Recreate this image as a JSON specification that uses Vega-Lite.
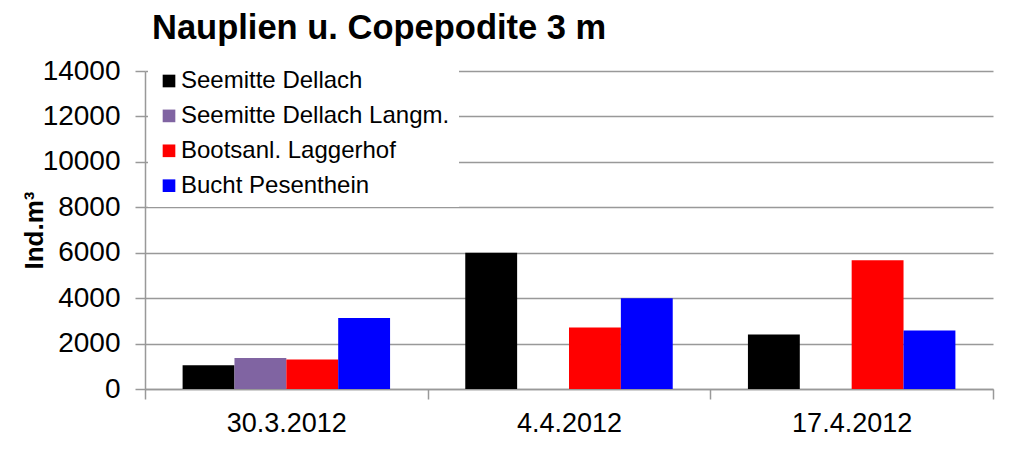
{
  "$schema": "https://vega.github.io/schema/vega-lite/v6.json",
  "autosize": {"type": "none"},
  "width": 848,
  "height": 318,
  "padding": {"left": 145, "top": 71, "right": 18, "bottom": 87},
  "background": "white",
  "config": {"font": "Liberation Sans", "view": {"stroke": null}},
  "title": {
    "text": "Nauplien u. Copepodite 3 m",
    "anchor": "start",
    "frame": "group",
    "font": "Liberation Sans",
    "fontSize": 34.5,
    "fontWeight": "bold",
    "color": "black",
    "baseline": "alphabetic",
    "offset": 29,
    "dx": 7,
    "dy": 45
  },
  "data": {
    "values": [
      {"date": "30.3.2012", "site": "Seemitte Dellach", "value": 1045},
      {"date": "30.3.2012", "site": "Seemitte Dellach Langm.", "value": 1370},
      {"date": "30.3.2012", "site": "Bootsanl. Laggerhof", "value": 1300},
      {"date": "30.3.2012", "site": "Bucht Pesenthein", "value": 3130},
      {"date": "4.4.2012", "site": "Seemitte Dellach", "value": 6000},
      {"date": "4.4.2012", "site": "Bootsanl. Laggerhof", "value": 2710},
      {"date": "4.4.2012", "site": "Bucht Pesenthein", "value": 4000},
      {"date": "17.4.2012", "site": "Seemitte Dellach", "value": 2400},
      {"date": "17.4.2012", "site": "Bootsanl. Laggerhof", "value": 5665},
      {"date": "17.4.2012", "site": "Bucht Pesenthein", "value": 2575}
    ]
  },
  "mark": {"type": "bar"},
  "encoding": {
    "x": {
      "field": "date",
      "type": "nominal",
      "sort": ["30.3.2012", "4.4.2012", "17.4.2012"],
      "scale": {"paddingInner": 0, "paddingOuter": 0},
      "axis": {
        "title": null,
        "labelAngle": 0,
        "tickBand": "extent",
        "tickSize": 10,
        "tickColor": "#999999",
        "tickWidth": 1.5,
        "domainColor": "#999999",
        "domainWidth": 1.5,
        "labelFontSize": 27,
        "labelColor": "black",
        "labelPadding": 11,
        "grid": false
      }
    },
    "xOffset": {
      "field": "site",
      "type": "nominal",
      "scale": {
        "domain": ["Seemitte Dellach", "Seemitte Dellach Langm.", "Bootsanl. Laggerhof", "Bucht Pesenthein"],
        "paddingInner": 0,
        "paddingOuter": 0.725
      }
    },
    "y": {
      "field": "value",
      "type": "quantitative",
      "scale": {"domain": [0, 14000], "nice": false},
      "axis": {
        "values": [0, 2000, 4000, 6000, 8000, 10000, 12000, 14000],
        "format": "d",
        "title": "Ind.m³",
        "titleFontSize": 26,
        "titleFontWeight": "bold",
        "titleColor": "black",
        "titleX": -103,
        "titleBaseline": "alphabetic",
        "labelFontSize": 28,
        "labelColor": "black",
        "labelPadding": 15,
        "tickSize": 10,
        "tickColor": "#999999",
        "tickWidth": 1.5,
        "domainColor": "#999999",
        "domainWidth": 1.5,
        "gridColor": "#999999",
        "gridWidth": 1.5
      }
    },
    "color": {
      "field": "site",
      "type": "nominal",
      "scale": {
        "domain": ["Seemitte Dellach", "Seemitte Dellach Langm.", "Bootsanl. Laggerhof", "Bucht Pesenthein"],
        "range": ["#000000", "#8064A2", "#FF0000", "#0000FF"]
      },
      "legend": {
        "title": null,
        "orient": "none",
        "legendX": 3,
        "legendY": -11,
        "fillColor": "white",
        "padding": 9,
        "symbolType": "square",
        "symbolSize": 160,
        "symbolStrokeWidth": 0,
        "labelFontSize": 24,
        "labelColor": "black",
        "labelOffset": 0,
        "rowPadding": 10.9,
        "labelLimit": 400
      }
    }
  }
}
